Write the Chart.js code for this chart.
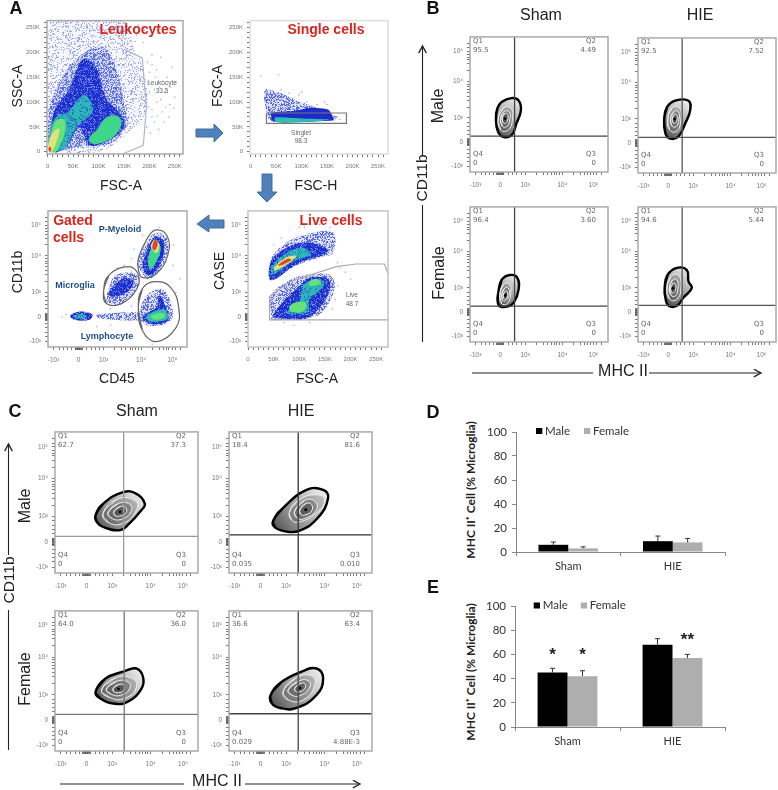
<!DOCTYPE html>
<html><head><meta charset="utf-8">
<style>
html,body{margin:0;padding:0;background:#fff;width:778px;height:790px;overflow:hidden}
#page{position:relative;width:778px;height:790px;overflow:hidden}
canvas{position:absolute;filter:blur(.5px)}
.t{position:absolute;white-space:nowrap;font-family:"Liberation Sans",Arial,sans-serif;line-height:1}
svg{position:absolute;left:0;top:0}
</style>
<script src="https://cdn.jsdelivr.net/npm/chart.js@4/dist/chart.umd.js"></script>
</head><body><div id="page">
<svg width="778" height="790">
<defs><marker id="ah" markerWidth="9" markerHeight="9" refX="7.5" refY="4" orient="auto"><path d="M1,0.5 L7.5,4 L1,7.5" fill="none" stroke="#222" stroke-width="1.2"/></marker></defs>
<path d="M196,129H214V124L223,133L214,142V137H196Z" fill="#4f81bd" stroke="#3f6f9f"/>
<path d="M262,174H272V192H277L267,202L257,192H262Z" fill="#4f81bd" stroke="#3f6f9f"/>
<path d="M224,220H209V215L197,224L209,232V228H224Z" fill="#4f81bd" stroke="#3f6f9f"/>
<line x1="422.5" y1="155" x2="422.5" y2="46" stroke="#222" stroke-width="1.1" marker-end="url(#ah)"/>
<line x1="422.5" y1="205" x2="422.5" y2="342" stroke="#222" stroke-width="1.1"/>
<line x1="472" y1="373" x2="593" y2="373" stroke="#222" stroke-width="1.1"/>
<line x1="649" y1="373" x2="761" y2="373" stroke="#222" stroke-width="1.1" marker-end="url(#ah)"/>
<line x1="8.5" y1="555" x2="8.5" y2="444" stroke="#222" stroke-width="1.1" marker-end="url(#ah)"/>
<line x1="8.5" y1="610" x2="8.5" y2="750" stroke="#222" stroke-width="1.1"/>
<line x1="60" y1="784" x2="184" y2="784" stroke="#222" stroke-width="1.1"/>
<line x1="245" y1="784" x2="360" y2="784" stroke="#222" stroke-width="1.1" marker-end="url(#ah)"/>
</svg>
</div>
<script>
/* ---------- tick data ---------- */
const kTicks=[0,50,100,150,200,250];
const kLabels=['0','50K','100K','150K','200K','250K'];
const kMinor=[10,20,30,40,60,70,80,90,110,120,130,140,160,170,180,190,210,220,230,240,260];
const biexTicks=[4,22,40,67,89.5];
const biexLabels=['-10³','0','10³','10⁴','10⁵'];
const biexMinor=[8,11,14,17,19.5,20,20.5,21,21.5,22.5,23,23.5,24,24.5,28,31,34,37,48,53,56,59,61,63,65,75,80,83,85,87,92,95];

/* ---------- panel A: density layers ---------- */
const a1Faint=[[3,264],[148,264],[168,212],[188,167],[194,82],[155,36],[102,0],[3,0]];
const a1Mid=[[3,82],[16,127],[56,186],[102,212],[128,186],[155,75],[158,55],[122,16],[62,10],[16,0],[3,0]];
const a1Deep=[[7,36],[13,82],[43,127],[69,186],[95,170],[115,108],[148,69],[148,46],[115,20],[82,13],[62,49],[36,10],[13,0]];
const a1Cyan=[[3,3],[3,36],[16,69],[43,82],[62,108],[76,114],[89,82],[56,49],[36,10],[16,0]];
const a1Right=[[82,29],[95,42],[115,69],[138,72],[145,55],[128,29],[95,15],[82,20]];
const a1Green=[[3,3],[5,29],[16,62],[33,65],[33,36],[16,0]];
const a1Yellow=[[1,3],[3,23],[13,42],[23,46],[16,16],[7,0]];
const a1Red=[[2,2],[3,10],[7,8],[5,0]];
const a1Gate=[[151,206],[186,189],[194,88],[188,13],[148,-4]];
const a1Dots=[[205,175],[212,150],[220,130],[230,120],[215,100],[240,95],[225,80],[205,70],[200,120],[235,150],[245,170],[210,60],[198,90],[250,110],[228,60],[205,195],[222,190],[175,235],[190,245],[160,250],[200,140],[210,125],[222,105],[232,90],[242,130],[252,140],[205,85],[215,72],[195,50],[202,38],[218,45],[238,70],[200,160],[188,220],[178,255],[172,222],[196,180],[214,165],[226,142],[248,88]];
const a2Faint=[[28,124],[51,121],[97,101],[168,72],[165,65],[41,62],[31,82]];
const a2Deep=[[41,78],[83,82],[116,88],[152,85],[162,69],[163,63],[44,61]];
const a2Green=[[48,69],[97,67],[155,65],[136,62],[64,58],[48,61]];
const a2Gate=[[31,78],[188,78],[188,57],[31,57],[31,78]];
const a2Dots=[[20,152],[55,155],[30,120],[35,115],[60,125],[75,118],[95,115],[100,120],[130,95],[145,100],[150,95],[170,70],[175,65],[45,110],[40,100],[70,105],[110,100],[120,92]];
const a3TopFaint=[[45,65],[81,78],[127,84],[166,84],[166,69],[140,66],[88,59],[45,49]];
const a3TopBlue=[[45,63],[75,73],[114,77],[156,72],[149,68],[101,62],[45,49]];
const a3TopCyan=[[47,59],[75,69],[107,73],[123,68],[88,63],[47,53]];
const a3TopYellow=[[52,59],[75,66],[94,67],[81,62],[52,56]];
const a3TopRed=[[58,60],[78,65],[84,64],[65,60]];
const a3LowFaint=[[45,24],[45,38],[81,49],[114,53],[159,53],[169,43],[140,24],[94,21],[45,20]];
const a3LowBlue=[[49,23],[68,33],[101,45],[120,51],[156,50],[159,41],[140,29],[114,21],[62,21]];
const a3LowCyan=[[75,25],[101,34],[107,45],[133,50],[149,47],[136,40],[120,35],[117,26],[88,24]];
const a3CoreA=[[81,30],[97,33],[114,32],[107,26],[84,26]];
const a3CoreB=[[120,48],[133,50],[143,47],[130,45],[120,45]];
const a3Gate=[[273,20],[42,20],[42,37],[81,48],[172,59],[211,61],[266,61],[273,54]];
const a3Dots=[[100,88],[140,90],[160,88],[168,75],[175,62],[180,58],[190,55],[200,50],[175,45],[170,35],[165,28],[150,20],[120,18],[70,18],[90,16],[65,80],[50,75],[60,72],[110,88],[150,80]];
const a4MyeFaint=[[65,62],[71,76],[77,84],[85,81],[86,69],[78,53],[71,50]];
const a4MyeBlue=[[68,60],[72,73],[77,81],[83,78],[83,67],[77,55],[71,53]];
const a4MyeGreen=[[72,62],[74,72],[78,78],[81,73],[79,65],[74,57]];
const a4MyeYellow=[[74,74],[77,79],[80,75],[78,69]];
const a4MyeRed=[[75,73],[77,79],[79,76],[77,71]];
const a4MicFaint=[[42,36],[49,53],[64,53],[65,45],[54,32],[44,32]];
const a4MicBlue=[[43,39],[53,50],[61,49],[58,41],[48,37]];
const a4LymFaint=[[66,22],[71,38],[83,42],[90,24],[85,17],[71,16]];
const a4LymBlue=[[68,22],[78,29],[80,38],[86,26],[86,19],[73,17]];
const a4LymCyan=[[71,23],[83,28],[86,24],[85,20],[73,19]];
const a4LymGreen=[[74,23],[83,25],[84,22],[77,20]];
const a4Bridge=[[35,24],[71,25],[71,20],[37,21]];
const a4Blob=[[16,23],[23,26],[32,24],[30,20],[19,20]];
const a4BlobCore=[[19,23],[25,24],[28,22],[20,21]];
const a4GateMic=[[40,41],[44,53],[58,59],[65,53],[64,43],[53,32],[42,32]];
const a4GateMye=[[65,65],[71,79],[78,86],[86,81],[86,67],[78,54],[68,51],[65,57]];
const a4GateLym=[[65,29],[68,43],[77,48],[88,44],[94,29],[92,14],[78,4],[68,12]];
const a4Dots=[[60,55],[55,60],[50,58],[90,60],[95,50],[92,40],[60,30],[55,25],[45,28],[40,22],[10,22],[13,24],[35,15],[45,16],[70,8],[75,2],[60,65],[62,72],[68,82],[90,75],[80,88]];

/* ---------- panels B, C: contours, in display channels ---------- */
const b1Outer=[[18.8,39.8],[19.8,47],[22.9,51.8],[30.1,54.7],[35.2,53],[36.9,45.8],[33.7,36.1],[30.1,27.2],[24.1,26],[20.2,30.1]];
const b1R1=[[20.5,39.6],[24.1,47.2],[29.6,47.2],[30.8,39.6],[27.7,31.2],[22.2,31.2]];
const b1R2=[[22.2,39.6],[24.8,44.8],[28.4,44.4],[28.9,39.1],[26.5,33.6],[23.4,34.1]];
const b1R3=[[23.4,40],[25.3,43.2],[27.2,42.7],[27.2,38.4],[25.5,36],[23.9,36.7]];
const b2Outer=[[19,40.3],[21,48.7],[27,53.5],[36.6,53.5],[37.8,46.3],[34.2,36.7],[29.4,27.1],[23.4,25.4],[19.8,29.5]];
const b2R1=[[21.7,40.3],[24.6,48],[30.1,48],[31.1,40.3],[28.2,31.2],[22.9,31.9]];
const b2R2=[[23.6,40.3],[26.3,45.6],[29.4,45.1],[29.6,39.8],[27.5,34.3],[24.6,35]];
const b2R3=[[24.8,40.3],[26.5,43.4],[28.2,42.7],[28.2,39.1],[26.7,36.7],[25.3,37.4]];
const b3Outer=[[20.5,36.5],[22.9,46],[28.9,49.6],[34.2,47.7],[35.2,38.8],[31.8,29.3],[27.7,26.4],[21.7,26.4],[20,30.5]];
const b3R1=[[21.7,35.3],[24.1,42.4],[28.4,42.9],[29.6,36.5],[27,28.5],[22.9,28.5]];
const b3R2=[[23.1,35.3],[25.3,40],[27.7,40],[28.4,35.3],[26,30.5],[23.6,30.9]];
const b3R3=[[24.1,34.8],[25.5,37.6],[27,37.2],[27,33.3],[25.5,31.7],[24.3,32.4]];
const b4Outer=[[19.3,40],[21.4,49.6],[28.2,54.9],[35.4,53.2],[36.6,44.8],[39,40],[33,32.9],[28.2,26.9],[22.2,26.9],[19.8,32.9]];
const b4R1=[[21,40],[23.9,48.4],[29.4,49.2],[31.1,40],[28.2,31.7],[22.9,31.7]];
const b4R2=[[22.7,40],[25.1,46],[28.2,46],[28.9,39.6],[27,34.1],[23.9,34.8]];
const b4R3=[[23.6,40],[25.3,43.2],[27,42.9],[27.2,38.8],[25.8,36.4],[24.1,36.9]];
const c1Outer=[[28.4,41.1],[33.7,49.2],[47.7,57.3],[57,56.1],[62.8,49.2],[60.5,44.6],[51.2,34.2],[45.3,30.3],[33.7,32.6],[29,36.5]];
const c1R1=[[33.7,42.3],[43,52],[55.8,51.5],[57,44.6],[47.7,35.3],[37.2,35.8]];
const c1R2=[[37.2,42.7],[44.2,49.2],[52.3,48.7],[53,43.4],[46.5,38.1],[39.5,38.8]];
const c1R3=[[41.2,43.4],[45.3,46.9],[49.5,46.2],[49.5,42.3],[45.3,40.4],[41.9,40.9]];
const c2Outer=[[30.9,37],[37.9,46.2],[54.2,58.9],[65.8,58.9],[69.3,53.1],[62.3,39.3],[49.5,30],[40.2,29.3],[32.1,32.3]];
const c2R1=[[42.6,43.9],[49.5,52],[61.2,55.4],[67,52],[61.2,42.7],[49.5,36.3],[43.7,37.6]];
const c2R2=[[46,43.9],[53,51.5],[60,50.8],[61.2,45],[53,38.6],[47.2,39.3]];
const c2R3=[[49.5,44.6],[53.7,49.2],[57.7,48.5],[57.7,43.9],[53,41.1],[50.2,41.6]];
const c3Outer=[[28.4,42.3],[34.9,51.5],[47.7,56.6],[57,58.9],[61.6,52.7],[60.5,44.6],[51.2,35.3],[41.9,33.7],[31.4,37.6]];
const c3R1=[[32.6,43.4],[41.9,52],[53.5,52],[57,45.7],[48.8,37.6],[38.4,38.1]];
const c3R2=[[36,44.1],[43,49.7],[51.2,49.2],[52.3,44.6],[46.5,40],[39.5,40.4]];
const c3R3=[[40.7,44.6],[44.2,47.3],[48.1,46.9],[48.1,43.4],[44.2,41.6],[41.2,42.3]];
const c4Outer=[[29.1,40],[36.7,49.2],[49.5,56.1],[61.2,58.9],[65.8,51.5],[61.2,40],[47.2,30.7],[35.6,30.7],[29.8,34.2]];
const c4R1=[[37.9,42.3],[46,51.5],[57.7,53.8],[60,46.9],[51.9,36.5],[41.4,36.5]];
const c4R2=[[41.4,43.4],[48.4,49.7],[55.3,50.3],[56.5,45.7],[49.5,39.5],[43.7,40]];
const c4R3=[[46,44.6],[49.5,48],[53,48],[53,44.6],[49.5,42.3],[46.5,42.7]];
const b1Quad=['95.5','4.49','0','0'], b2Quad=['92.5','7.52','0','0'], b3Quad=['96.4','3.60','0','0'], b4Quad=['94.6','5.44','0','0'];
const c1Quad=['62.7','37.3','0','0'], c2Quad=['18.4','81.6','0.035','0.010'], c3Quad=['64.0','36.0','0','0'], c4Quad=['36.6','63.4','0.029','4.88E-3'];

/* ---------- panels D, E ---------- */
const groups=['Sham','HIE'];
const dMale=[6,9], dFemale=[3,8], dMaleTop=[8.3,13.3], dFemaleTop=[4.3,11.3];
const eMale=[45,68], eFemale=[42,57], eMaleTop=[48.5,73], eFemaleTop=[46.5,60];
const eMaleStars=['*',''], eFemaleStars=['*','**'];
const eMaleStarAt=[62,0], eFemaleStarAt=[62,74];
const barTicks=[0,20,40,60,80,100];

/* ---------- helpers ---------- */
const page=document.getElementById('page');
function T(text,x,y,o={}){
  const d=document.createElement('div');d.className='t';d.textContent=text;
  d.style.left=x+'px';d.style.top=y+'px';
  d.style.fontSize=(o.size||16)+'px';d.style.color=o.color||'#222';
  if(o.bold)d.style.fontWeight='bold';
  if(o.font)d.style.fontFamily=o.font;
  const ax=o.align==='left'?'0':o.align==='right'?'-100%':'-50%';
  d.style.transform=`translate(${ax},-50%)`+(o.rot?` rotate(${o.rot}deg)`:'');
  page.appendChild(d);
}
const pts=a=>a.map(p=>({x:p[0],y:p[1]}));
const closed=a=>pts([a[a.length-1]].concat(a,[a[0],a[1]]));
/* stipple fills: the flow plots are clouds of single events */
function speck(color,density,seed,tint){
  const n=53,tile=document.createElement('canvas');tile.width=tile.height=n;
  const g=tile.getContext('2d');
  if(tint){g.fillStyle=tint;g.fillRect(0,0,n,n);}
  g.fillStyle=color;
  for(let y=0;y<n;y++)for(let x=0;x<n;x++){
    const h=Math.sin(x*12.9898+y*78.233+seed)*43758.5453;
    if(h-Math.floor(h)<density)g.fillRect(x,y,1,1);
  }
  return g.createPattern(tile,'repeat');
}
const poly=(a,color,t=0.35)=>({data:closed(a),showLine:true,fill:'shape',backgroundColor:color,borderColor:'rgba(0,0,0,0)',borderWidth:0,pointRadius:0,tension:t});
const gate=(a,color,t=0,w=1.2)=>({data:pts(a),showLine:true,fill:false,borderColor:color,borderWidth:w,pointRadius:0,tension:t});
const roundGate=(a,color)=>({data:closed(a),showLine:true,fill:false,borderColor:color,borderWidth:1.2,pointRadius:0,tension:.45});
const dots=(a,color)=>({data:pts(a),showLine:false,pointRadius:.8,pointBorderWidth:0,pointBackgroundColor:color});
const framePlugin={id:'frame',afterDatasetsDraw(c,_,o){
  const {left,top,width,height}=c.chartArea,g=c.ctx;
  g.save();g.strokeStyle=o.color||'#aaa';g.lineWidth=1.5;g.strokeRect(left,top,width,height);g.restore();}};
function axis(ticks,labels,minor,min,max,isX,pad,size){
  return {type:'linear',min,max,
    afterBuildTicks:s=>{s.ticks=ticks.concat(minor).sort((a,b)=>a-b).map(v=>({value:v}));},
    afterFit:s=>{if(isX)s.height=pad;else s.width=pad;},
    grid:{drawOnChartArea:false,drawTicks:true,tickLength:3,tickColor:'#555',lineWidth:.8},
    border:{display:false},
    ticks:{autoSkip:false,maxRotation:0,minRotation:0,padding:isX?6:4,color:'#777',
      font:{family:'Liberation Sans',size:size||6},
      callback:v=>{const i=ticks.indexOf(v);return i<0?'':labels[i];}}};
}
function plot(box,datasets,x,y,frame){
  const padL=34,padR=6,padT=4,padB=26;
  const cv=document.createElement('canvas');
  cv.width=box.w+padL+padR;cv.height=box.h+padT+padB;
  cv.style.left=(box.x-padL)+'px';cv.style.top=(box.y-padT)+'px';
  cv.style.width=cv.width+'px';cv.style.height=cv.height+'px';
  page.appendChild(cv);
  datasets.forEach((d,i)=>{d.order=datasets.length-i;});
  return new Chart(cv,{type:'scatter',data:{datasets},plugins:[framePlugin],options:{
    responsive:false,animation:false,
    layout:{padding:{left:0,right:padR,top:padT,bottom:0}},
    plugins:{legend:{display:false},tooltip:{enabled:false},frame:{color:frame}},
    scales:{x:axis(x[0],x[1],x[2],x[3],x[4],true,padB,x[5]),y:axis(y[0],y[1],y[2],y[3],y[4],false,padL,y[5])}}});
}
const BX=[biexTicks,biexLabels,biexMinor,0,100,6.5];
const KX=(a,b)=>[kTicks,kLabels,kMinor,a,b,6];

const FAINT=speck('#9aa4f0',.2,1,'rgba(190,196,245,.14)'),MID=speck('#5a6ce6',.4,2,'rgba(130,140,235,.28)'),DEEP=speck('#1c30d2',.72,3,'rgba(70,90,225,.6)'),CYS=speck('#2cb8b4',.8,4,'rgba(40,120,200,.7)');
const DB='#2236d4',CY='#30bcae',GR='#3fd68a',LG='#66e27a',YE='#e6e07c',RD='#e0452f';

/* ---------- panel A ---------- */
plot({x:47,y:17,w:136.5,h:137},[
  dots(a1Dots,'#a4acef'),poly(a1Faint,FAINT),poly(a1Mid,MID),poly(a1Deep,DEEP),poly(a1Cyan,CYS),poly(a1Right,GR),poly(a1Green,LG),poly(a1Yellow,YE),poly(a1Red,RD),
  gate(a1Gate,'#b4b4cc')
],KX(-1.3,266),KX(-4.5,264),'#aaa');
plot({x:250,y:17,w:138,h:137},[
  dots(a2Dots,'#a4acef'),poly(a2Faint,MID),poly(a2Deep,'#1c2ccc',.2),poly(a2Green,CY,.2),gate(a2Gate,'#777')
],KX(-1.3,269.6),KX(-4.5,264),'#ddd');
plot({x:248,y:207,w:140,h:140},[
  dots(a3Dots,'#a4acef'),poly(a3TopFaint,MID),poly(a3LowFaint,MID),poly(a3TopBlue,DEEP),poly(a3TopCyan,CYS),poly(a3TopYellow,YE),poly(a3TopRed,RD),
  poly(a3LowBlue,DEEP),poly(a3LowCyan,CYS),poly(a3CoreA,LG),poly(a3CoreB,LG),gate(a3Gate,'#aaa')
],KX(0,273),[biexTicks,biexLabels,biexMinor,0,100,6.5],'#c4c4c4');
plot({x:48,y:207,w:139,h:140},[
  dots(a4Dots,'#a4acef'),poly(a4Bridge,MID),poly(a4MyeFaint,MID),poly(a4MicFaint,MID),poly(a4LymFaint,MID),poly(a4Blob,DEEP),poly(a4BlobCore,CYS),
  poly(a4MyeBlue,DEEP),poly(a4MyeGreen,GR),poly(a4MyeYellow,YE),poly(a4MyeRed,RD),poly(a4MicBlue,DEEP),
  poly(a4LymBlue,DEEP),poly(a4LymCyan,CY),poly(a4LymGreen,LG),
  roundGate(a4GateMic,'#666'),roundGate(a4GateMye,'#666'),roundGate(a4GateLym,'#666')
],BX,BX,'#aaa');

/* ---------- contour plots ---------- */
function contour(box,outer,r1,r2,r3,vLine,hLine,lineColor,quad){
  const xs=outer.map(p=>p[0]),ys=outer.map(p=>p[1]);
  const shade=ctx=>{
    const ch=ctx.chart;if(!ch.chartArea)return '#999';
    const g=ch.ctx.createLinearGradient(ch.scales.x.getPixelForValue(Math.min(...xs)),ch.scales.y.getPixelForValue(Math.min(...ys)),ch.scales.x.getPixelForValue(Math.max(...xs)),ch.scales.y.getPixelForValue(Math.max(...ys)));
    g.addColorStop(0,'#4a4a4a');g.addColorStop(.3,'#858585');g.addColorStop(.62,'#bbbbbb');g.addColorStop(1,'#f8f8f8');return g;};
  const ring=(a,bg)=>({data:closed(a),showLine:true,fill:'shape',backgroundColor:bg,borderColor:'#f2f2f2',borderWidth:1,pointRadius:0,tension:.5});
  const center=r3.reduce((s,p)=>[s[0]+p[0]/r3.length,s[1]+p[1]/r3.length],[0,0]);
  plot(box,[
    {data:closed(outer),showLine:true,fill:'shape',backgroundColor:shade,borderColor:'#000',borderWidth:2.4,pointRadius:0,tension:.45},
    ring(r1,'rgba(70,70,70,.25)'),ring(r2,'rgba(60,60,60,.3)'),ring(r3,'rgba(40,40,40,.35)'),
    {data:pts([center]),showLine:false,pointRadius:1.4,pointBorderWidth:0,pointBackgroundColor:'#000'},
    gate([[vLine,0],[vLine,100]],lineColor,0,1.3),gate([[0,hLine],[100,hLine]],lineColor,0,1.3)
  ],BX,BX,'#aaa');
  const f={size:7,color:'#666',font:'"DejaVu Sans",sans-serif'};
  const L=box.x+3,R=box.x+box.w-12,Yt=box.y,Yb=box.y+box.h;
  T('Q1',L,Yt+8,{...f,align:'left'});T(quad[0],L,Yt+16.5,{...f,align:'left'});
  T('Q2',R,Yt+8,{...f,align:'right'});T(quad[1],R,Yt+16.5,{...f,align:'right'});
  T('Q4',L,Yb-18,{...f,align:'left'});T(quad[2],L,Yb-9,{...f,align:'left'});
  T('Q3',R,Yb-18,{...f,align:'right'});T(quad[3],R,Yb-9,{...f,align:'right'});
}
contour({x:470,y:33,w:138,h:139},b1Outer,b1R1,b1R2,b1R3,32.3,26.6,'#444',b1Quad);
contour({x:638,y:34,w:138,h:139},b2Outer,b2R1,b2R2,b2R3,32,26.4,'#555',b2Quad);
contour({x:470,y:203,w:138,h:139},b3Outer,b3R1,b3R2,b3R3,32.3,26.6,'#444',b3Quad);
contour({x:638,y:203,w:138,h:139},b4Outer,b4R1,b4R2,b4R3,32,27.1,'#555',b4Quad);
contour({x:55,y:428,w:143,h:145},c1Outer,c1R1,c1R2,c1R3,48,26,'#999',c1Quad);
contour({x:229,y:428,w:143,h:145},c2Outer,c2R1,c2R2,c2R3,48.4,27,'#333',c2Quad);
contour({x:55,y:607,w:143,h:144},c3Outer,c3R1,c3R2,c3R3,48.4,26.1,'#777',c3Quad);
contour({x:229,y:607,w:143,h:144},c4Outer,c4R1,c4R2,c4R3,48.4,26.6,'#444',c4Quad);

/* ---------- bar charts ---------- */
const barPlugin={id:'barExtras',afterDatasetsDraw(c,_,o){
  const g=c.ctx,y=c.scales.y;
  g.save();
  o.tops.forEach((tops,i)=>{c.getDatasetMeta(i).data.forEach((el,j)=>{
    const t=y.getPixelForValue(tops[j]);
    g.strokeStyle='#333';g.lineWidth=1;g.beginPath();
    g.moveTo(el.x,el.y);g.lineTo(el.x,t);g.moveTo(el.x-2.5,t);g.lineTo(el.x+2.5,t);g.stroke();
    if(o.stars&&o.stars[i][j]){g.fillStyle='#222';g.font='bold 17px "Liberation Sans"';g.textAlign='center';g.textBaseline='middle';
      g.fillText(o.stars[i][j],el.x,y.getPixelForValue(o.starAt[i][j])+3);}
  });});
  const L=c.chartArea.left,Tp=c.chartArea.top;
  g.textAlign='left';g.textBaseline='middle';g.font='11.5px Lato';
  c.data.datasets.forEach((d,i)=>{const p=o.legend[i];
    g.fillStyle=d.backgroundColor;g.fillRect(L+p,Tp+o.legendY-3,6.3,6);
    g.fillStyle='#333';g.fillText(d.label,L+p+9,Tp+o.legendY);});
  g.restore();}};
function bars(box,male,female,mTop,fTop,extra){
  const padL=34,padR=8,padT=14,padB=30;
  const cv=document.createElement('canvas');
  cv.width=box.w+padL+padR;cv.height=box.h+padT+padB;
  cv.style.left=(box.x-padL)+'px';cv.style.top=(box.y-padT)+'px';
  cv.style.width=cv.width+'px';cv.style.height=cv.height+'px';
  page.appendChild(cv);
  const tickFont={family:'Lato',size:11.5};
  new Chart(cv,{type:'bar',plugins:[barPlugin],
    data:{labels:groups,datasets:[
      {label:'Male',data:male,backgroundColor:'#000',barPercentage:1,categoryPercentage:.57},
      {label:'Female',data:female,backgroundColor:'#aeaeae',barPercentage:1,categoryPercentage:.57}]},
    options:{responsive:false,animation:false,
      layout:{padding:{top:padT,right:padR,left:0,bottom:0}},
      plugins:{legend:{display:false},tooltip:{enabled:false},
        barExtras:{tops:[mTop,fTop],legend:extra.legend,legendY:extra.legendY,stars:extra.stars,starAt:extra.starAt}},
      scales:{
        x:{afterFit:s=>{s.height=padB;},border:{color:'#888'},
           grid:{drawOnChartArea:false,offset:true,tickLength:4,color:'#888'},
           ticks:{color:'#333',padding:4,font:{family:'Lato',size:11}}},
        y:{min:0,max:100,afterFit:s=>{s.width=padL;},afterBuildTicks:s=>{s.ticks=barTicks.map(v=>({value:v}));},
           border:{color:'#888'},grid:{drawOnChartArea:false,tickLength:4,color:'#888'},
           ticks:{color:'#333',padding:5,font:tickFont}}}}});
}
bars({x:516,y:431.7,w:209,h:120.6},dMale,dFemale,dMaleTop,dFemaleTop,{legend:[20,68],legendY:-1});
bars({x:515,y:606,w:210,h:121.3},eMale,eFemale,eMaleTop,eFemaleTop,{legend:[18.7,65.7],legendY:-.5,stars:[eMaleStars,eFemaleStars],starAt:[eMaleStarAt,eFemaleStarAt]});

/* ---------- text ---------- */
[['A',16,8],['B',433,8],['C',15,411],['D',433,412],['E',433,587]].forEach(a=>T(a[0],a[1],a[2],{size:18,bold:true,color:'#111'}));
const ax={size:14,color:'#222'};
T('SSC-A',17,86,{...ax,rot:-90});T('FSC-A',121,185,ax);T('FSC-A',217,86,{...ax,rot:-90});T('FSC-H',316,185,ax);
T('CD11b',17,272,{...ax,rot:-90});T('CASE',219,271,{...ax,rot:-90});T('CD45',117,378,ax);T('FSC-A',317,378,ax);
const red={size:14,bold:true,color:'#d9261c'};
T('Leukocytes',138,29,red);T('Single cells',326,29,red);T('Live cells',331,220,red);T('Gated',73,220,red);T('cells',68.5,237,red);
const blue={size:9,bold:true,color:'#1f4e8c'};
T('P-Myeloid',120,229,blue);T('Microglia',75,285,blue);T('Lymphocyte',107,336,blue);
const sm={size:6.5,color:'#666'};
T('Leukocyte',162,83,sm);T('33.5',162,91,sm);T('Singlet',301,133,sm);T('98.3',301,141,sm);T('Live',352,295,sm);T('48.7',352,304,sm);
T('Sham',541,15);T('HIE',700,15);T('Sham',137,411);T('HIE',301,411);
T('Male',438,106,{rot:-90});T('Female',439,273,{rot:-90});T('CD11b',422,178,{size:15.5,rot:-90});T('MHC II',623,371);
T('Male',25,506,{rot:-90});T('Female',25,679,{rot:-90});T('CD11b',8.5,580,{size:15.5,rot:-90});T('MHC II',217,781);
const yt={size:12,bold:true,color:'#222',font:'Lato',rot:-90};
T('MHC II⁺ Cell (% Microglia)',471,490,yt);T('MHC II⁺ Cell (% Microglia)',471,672,yt);
</script></body></html>
